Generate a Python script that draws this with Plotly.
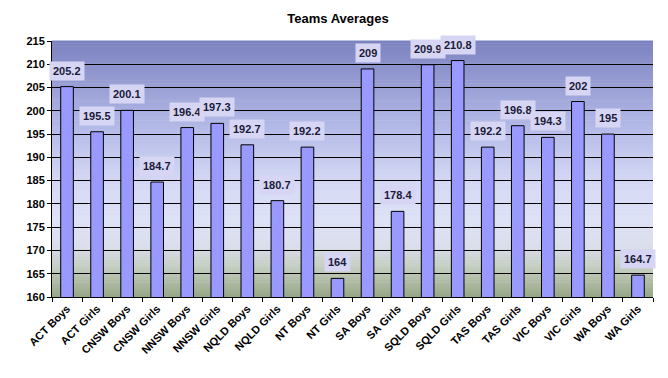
import plotly.graph_objects as go

categories = ["ACT Boys", "ACT Girls", "CNSW Boys", "CNSW Girls", "NNSW Boys", "NNSW Girls",
              "NQLD Boys", "NQLD Girls", "NT Boys", "NT Girls", "SA Boys", "SA Girls",
              "SQLD Boys", "SQLD Girls", "TAS Boys", "TAS Girls", "VIC Boys", "VIC Girls",
              "WA Boys", "WA Girls"]
values = [205.2, 195.5, 200.1, 184.7, 196.4, 197.3, 192.7, 180.7, 192.2, 164,
          209, 178.4, 209.9, 210.8, 192.2, 196.8, 194.3, 202, 195, 164.7]
y_ticks = list(range(160, 216, 5))

fig = go.Figure()
fig.add_trace(go.Bar(
    x=categories, y=values,
    marker=dict(color="#9999FF", line=dict(color="#000000", width=1)),
    width=0.42, hoverinfo="x+y",
))

# gradient background stops (paper fraction from bottom, rgb)
stops = [(0.0, (150, 166, 134)), (0.1, (192, 202, 184)), (0.2, (218, 222, 236)),
         (0.3, (222, 226, 246)), (0.45, (212, 216, 244)), (0.65, (182, 188, 232)),
         (1.0, (124, 130, 192))]

def col(f):
    for (a, ca), (b, cb) in zip(stops[:-1], stops[1:]):
        if a <= f <= b:
            t = (f - a) / (b - a)
            return "rgb(%d,%d,%d)" % tuple(round(ca[i] + (cb[i] - ca[i]) * t) for i in range(3))
    return "rgb(%d,%d,%d)" % stops[-1][1]

n = 90
shapes = []
for i in range(n):
    f0, f1 = i / n, (i + 1) / n
    shapes.append(dict(type="rect", xref="paper", yref="paper", x0=0, x1=1, y0=f0, y1=f1 + 0.002,
                       fillcolor=col((f0 + f1) / 2), line=dict(width=0), layer="below"))

annotations = []
for c, v in zip(categories, values):
    annotations.append(dict(x=c, y=v, text="<b>%s</b>" % (("%g" % v)), showarrow=False,
                            yanchor="bottom", yshift=6, bgcolor="#D6D6F4", borderpad=3,
                            font=dict(family="Liberation Sans, Arial", size=11, color="#1a1a38")))

fig.update_layout(
    width=660, height=370,
    margin=dict(l=44, r=15, t=33, b=81, autoexpand=False),
    paper_bgcolor="white", plot_bgcolor="rgba(0,0,0,0)",
    title=dict(text="<b>Teams Averages</b>", x=0.5, xanchor="center", y=0.973, yanchor="middle",
               font=dict(family="Liberation Sans, Arial", size=13, color="black")),
    font=dict(family="Liberation Sans, Arial", color="black"),
    showlegend=False,
    shapes=shapes, annotations=annotations,
    xaxis=dict(tickangle=-45, tickfont=dict(size=11), tickprefix="<b>", ticksuffix="</b>",
               showline=True, linecolor="black", linewidth=1, automargin=False,
               ticks="outside", ticklen=4, tickcolor="black", tickson="boundaries",
               showgrid=False, range=[-0.5, len(categories) - 0.5]),
    yaxis=dict(range=[160, 215], tickvals=y_ticks, ticktext=["<b>%d</b>" % t for t in y_ticks],
               tickfont=dict(size=11), showgrid=True, gridcolor="black", gridwidth=1,
               showline=True, linecolor="black", linewidth=1, mirror=False, automargin=False,
               ticks="outside", ticklen=4, tickcolor="black", zeroline=False),
)
fig.write_html("out.html")
